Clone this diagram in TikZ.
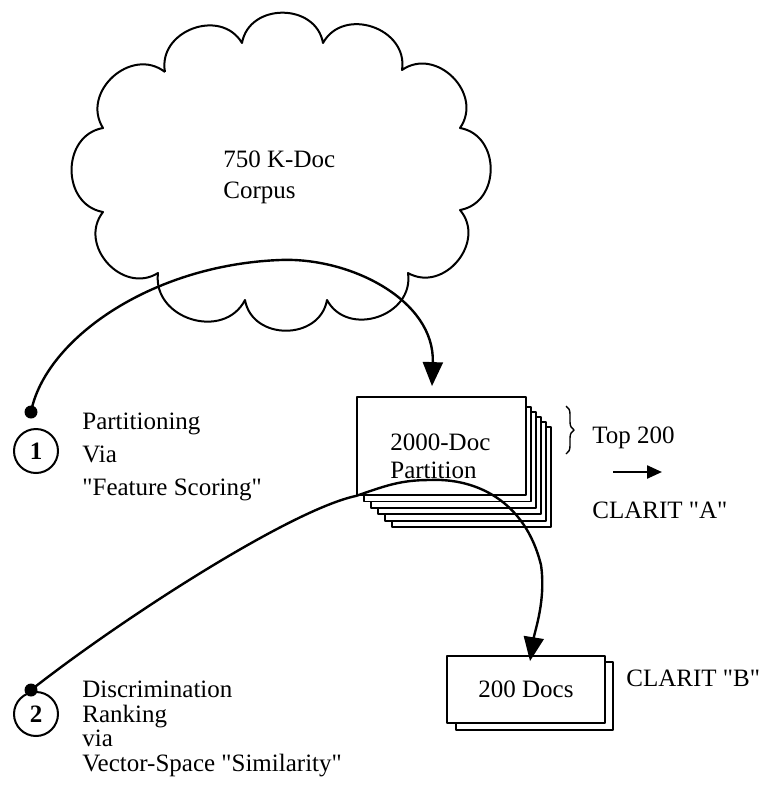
\documentclass[tikz,border=0pt]{standalone}
\usepackage{fontspec}
\setmainfont{Liberation Serif}[Ligatures=TeXOff]
\usetikzlibrary{arrows.meta,calc,decorations.pathreplacing}
\tikzset{
 dot/.style={circle,fill,inner sep=0pt,minimum size=6.5pt},
 numcirc/.style={circle,draw,line width=1pt,inner sep=0pt,minimum size=22pt,font=\fontsize{12.5}{15}\selectfont\bfseries},
 sheet/.style={draw,fill=white,line width=0.9pt},
 lbl/.style={anchor=west,align=left,inner sep=0pt},
 conn/.style={line width=1.2pt,-{Triangle[length=12pt,width=10pt]}},
 bump/.style={bend left=80,looseness=1.3},
}

\begin{document}
\begin{tikzpicture}[x=0.5pt,y=-0.5pt,line join=round,font=\fontsize{12.5}{15}\selectfont]
\useasboundingbox (0,0) rectangle (763,804);
% corpus cloud
\draw[line width=1pt] (165,72) foreach \x/\y in {242/43,323/43,402/70,460/128,460/210,408/273,327/300,245/300,158/273,103/212,103/128,165/72} {to[bump] (\x,\y)};
\node[lbl,font=\fontsize{12.5}{15.5}\selectfont] (corpus) at (223,177) {750 K-Doc\\Corpus};

% partition stack
\foreach \i in {5,...,1}
  \draw[sheet] (357+7*\i,402+5*\i) rectangle (526+5*\i,495+6.4*\i);
\node[sheet,minimum width=84.5pt,minimum height=49pt,inner sep=0pt] (part) at (441.5,446) {};
\node[lbl,font=\fontsize{12.5}{14}\selectfont] (parttext) at (390,456) {2000-Doc\\Partition};
\draw[line width=0.7pt,decorate,decoration={brace,amplitude=4pt}] (566,406) -- (566,454);
\node[lbl] (top) at (592,438) {Top 200};
\coordinate (arrA) at (613,472);
\coordinate (arrB) at (662,472);
\draw[line width=1.2pt,-{Triangle[length=7.5pt,width=6.5pt]}] (arrA) -- (arrB);
\node[lbl] (clarA) at (592,510) {CLARIT "A"};

% 200 docs
\draw[sheet] (456,662) rectangle (613,730);
\node[sheet,minimum width=79pt,minimum height=33.5pt,inner sep=0pt] (docs) at (526,689.5) {200 Docs};
\node[lbl] (clarB) at (626,678) {CLARIT "B"};

% step 1
\node[dot] (dotA) at (31,412) {};
\node[numcirc] (numA) at (36,451) {1};
\node[lbl,font=\fontsize{12.5}{16.5}\selectfont] (stepA) at (82,457) {Partitioning\\Via\\"Feature Scoring"};

% step 2
\node[dot] (dotB) at (31,690) {};
\node[numcirc] (numB) at (36,714) {2};
\node[lbl,font=\fontsize{12.5}{12.3}\selectfont] (stepB) at (82,729) {Discrimination\\Ranking\\via\\Vector-Space "Similarity"};

% connectors
\coordinate (bendA) at (280,260);
\coordinate (tipA) at ($(part.north)+(-9.5,-10)$);
\draw[conn] (dotA.center) .. controls (45,340) and (150,265) .. (bendA) .. controls (350,257) and (435,300) .. (tipA);
\coordinate (bendB) at (430,480);
\coordinate (turnB) at (541,565);
\coordinate (tipB) at ($(docs.north)+(4,6)$);
\draw[conn] (dotB.center) .. controls (120,620) and (290,510) .. (part.south west) .. controls (385,486) and (400,480) .. (bendB) .. controls (475,478) and (525,500) .. (turnB) .. controls (546,600) and (535,630) .. (tipB);
\end{tikzpicture}
\end{document}
